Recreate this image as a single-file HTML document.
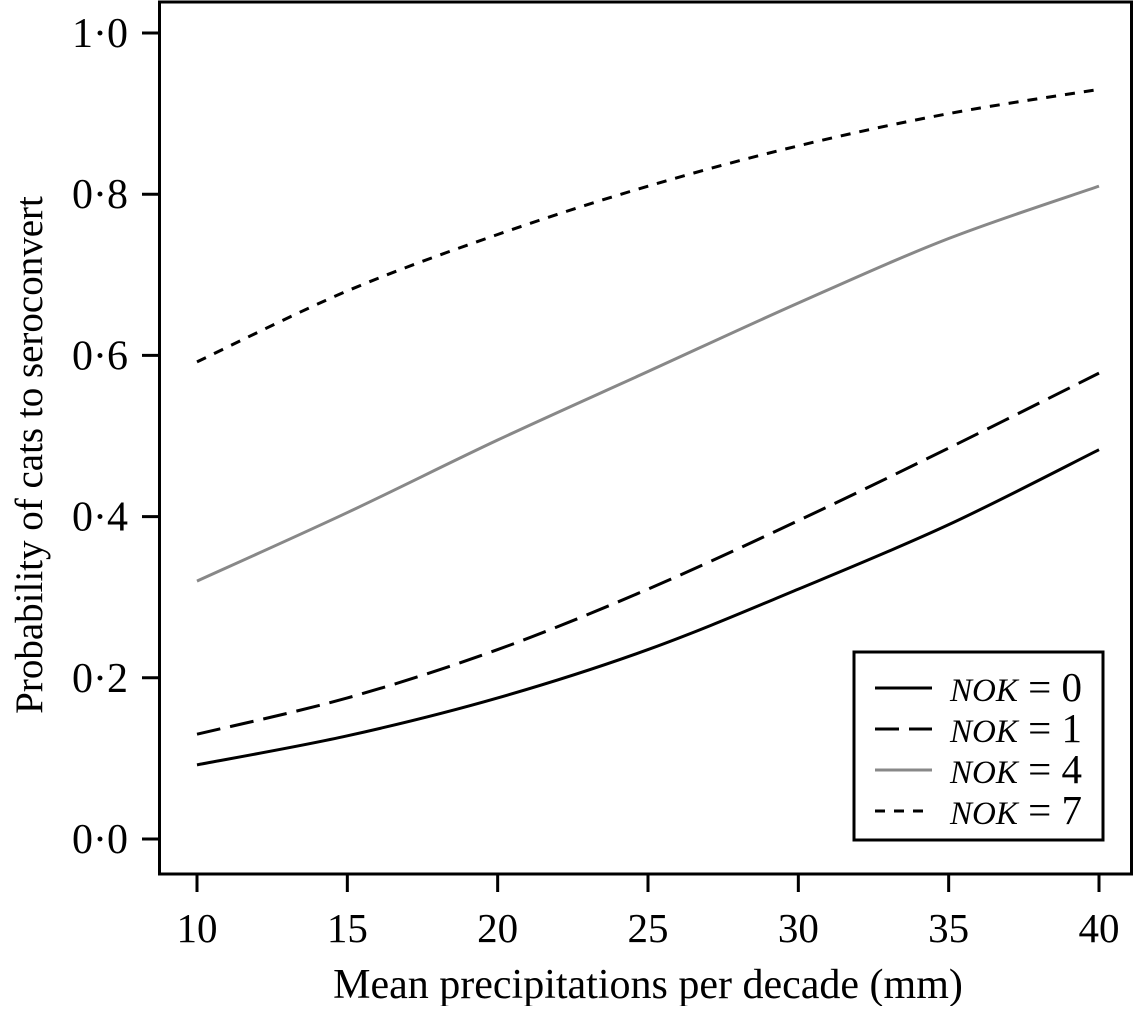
<!DOCTYPE html>
<html><head><meta charset="utf-8"><style>
html,body{margin:0;padding:0;background:#fff}
svg text{font-family:"Liberation Serif",serif;fill:#000}
</style></head><body>
<svg id="chart" width="1136" height="1006" viewBox="0 0 1136 1006">
<rect x="159.5" y="2" width="972" height="872" fill="none" stroke="#000" stroke-width="3"/>
<g id="axes"></g>
<g id="series"></g>
<text x="648" y="998" font-size="42" text-anchor="middle">Mean precipitations per decade (mm)</text>
<text transform="translate(42,455) rotate(-90)" font-size="39" text-anchor="middle">Probability of cats to seroconvert</text>
<g>
<rect x="854" y="652" width="249" height="188" fill="#fff" stroke="#000" stroke-width="3"/>
<g id="legend-items"></g>
</g>
</svg>
<script>
const xTicks=[10,15,20,25,30,35,40];
const yTicks=[0,0.2,0.4,0.6,0.8,1.0];
const yTickLabels=["0·0","0·2","0·4","0·6","0·8","1·0"];
const xValues=[10,15,20,25,30,35,40];
const nok0=[0.092,0.128,0.175,0.235,0.31,0.39,0.483];
const nok1=[0.13,0.175,0.235,0.31,0.395,0.485,0.578];
const nok4=[0.32,0.405,0.495,0.58,0.665,0.745,0.81];
const nok7=[0.592,0.68,0.75,0.81,0.86,0.9,0.93];
const seriesLabels=["0","1","4","7"];

const NS="http://www.w3.org/2000/svg";
function xs(v){return 197+(v-10)*(1099-197)/30;}
function ys(v){return 839-v*806;}
function mk(tag,attrs,parent){const e=document.createElementNS(NS,tag);for(const k in attrs)e.setAttribute(k,attrs[k]);parent.appendChild(e);return e;}
const axes=document.getElementById('axes');
xTicks.forEach(t=>{
  const l=mk('line',{x1:xs(t),x2:xs(t),y1:875,y2:892,stroke:'#000','stroke-width':3},axes);
  
  
  const tx=mk('text',{x:xs(t),y:942,'font-size':41,'text-anchor':'middle'},axes);
  tx.textContent=t;
  
  
});
yTicks.forEach((t,i)=>{
  const l=mk('line',{x1:142,x2:159,y1:ys(t),y2:ys(t),stroke:'#000','stroke-width':3},axes);
  
  
  const tx=mk('text',{x:128,y:ys(t)+14,'font-size':42,'text-anchor':'end'},axes);
  tx.textContent=yTickLabels[i];
  
  
});
function pathFor(vals){
  const p=xValues.map((x,i)=>[xs(x),ys(vals[i])]);
  let d='M'+p[0][0]+','+p[0][1];
  for(let i=0;i<p.length-1;i++){
    const p0=p[Math.max(i-1,0)],p1=p[i],p2=p[i+1],p3=p[Math.min(i+2,p.length-1)];
    const c1=[p1[0]+(p2[0]-p0[0])/6,p1[1]+(p2[1]-p0[1])/6];
    const c2=[p2[0]-(p3[0]-p1[0])/6,p2[1]-(p3[1]-p1[1])/6];
    d+=' C'+c1+' '+c2+' '+p2;
  }
  return d;
}
const styles=[
  {data:nok0,stroke:'#000',dash:'none',w:3},
  {data:nok1,stroke:'#000',dash:'24,10',w:3},
  {data:nok4,stroke:'#888',dash:'none',w:3},
  {data:nok7,stroke:'#000',dash:'10,9',w:3}
];
const sg=document.getElementById('series');
const lg=document.getElementById('legend-items');
styles.forEach((s,i)=>{
  const p=mk('path',{d:pathFor(s.data),fill:'none',stroke:s.stroke,'stroke-width':s.w,'stroke-dasharray':s.dash},sg);
  
  
  const y=688+i*41;
  const l=mk('line',{x1:875,x2:932,y1:y,y2:y,stroke:s.stroke,'stroke-width':s.w,'stroke-dasharray':s.dash},lg);
  
  
  const t=mk('text',{x:950,y:y+13,'font-size':41},lg);
  t.innerHTML='<tspan font-style="italic" font-size="33">NOK</tspan> = '+seriesLabels[i];
  
  
});
</script>
</body></html>
